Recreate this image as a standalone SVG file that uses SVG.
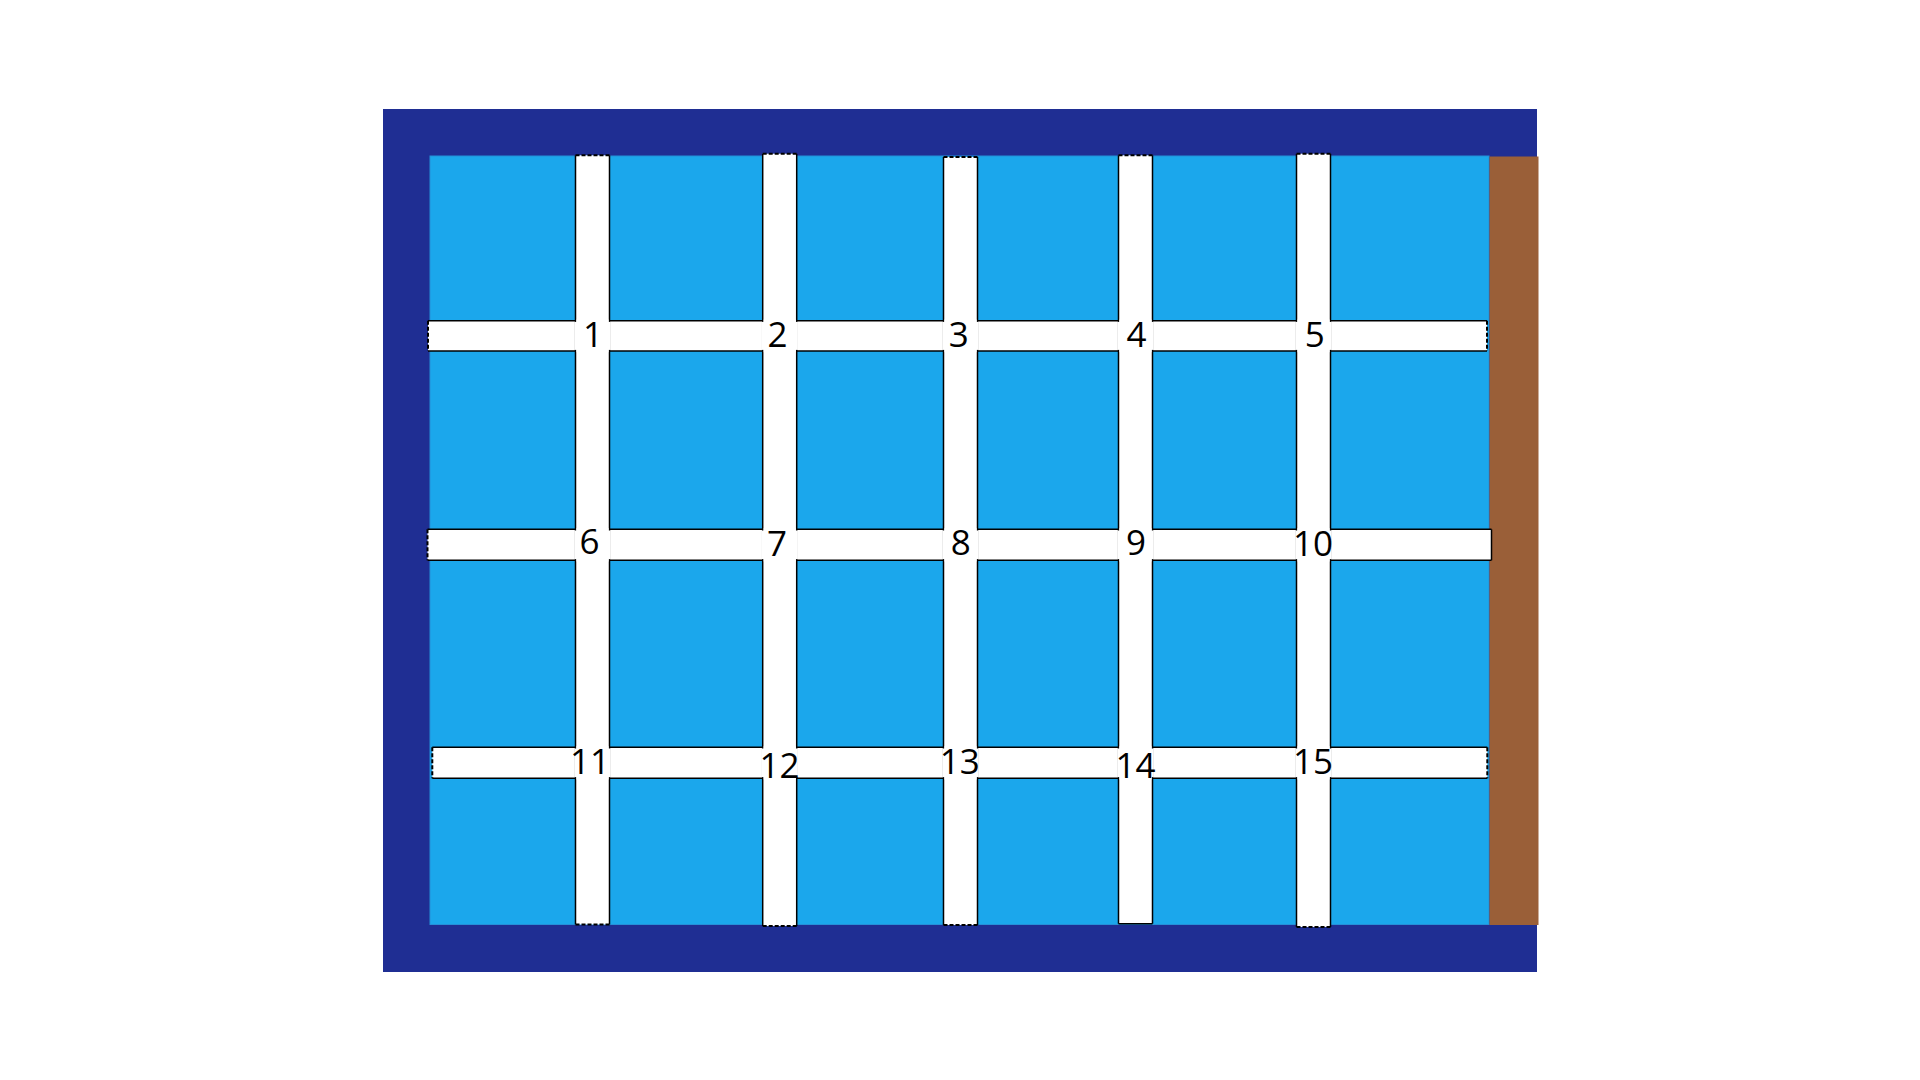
<svg xmlns="http://www.w3.org/2000/svg" width="1920" height="1080" viewBox="0 0 1920 1080">
<style>
.road{fill:#fff;stroke:none}
.edge{stroke:#000;stroke-width:1.5;fill:none}
.end{stroke:#000;stroke-width:2;fill:none;stroke-dasharray:4 2}
.cov{fill:#fff;stroke:none}
.lbl{font-family:"Open Sans","Liberation Sans",sans-serif;font-size:35px;fill:#000;text-anchor:middle}
</style>
<rect width="1920" height="1080" fill="#fff"/>
<g id="frame">
<rect x="383" y="109" width="1154" height="863" fill="#1f2e93"/>
<rect x="430" y="156" width="1059" height="768.5" fill="#1ba7ec" stroke="#2590d8" stroke-width="1"/>
<rect x="1489.5" y="156.5" width="49" height="768.5" fill="#9a5f38"/>
</g>
<g id="connectors">
<rect class="road" x="428" y="320.7" width="1059" height="30.3"/>
<line class="edge" x1="428" y1="320.7" x2="1487" y2="320.7"/>
<line class="edge" x1="428" y1="351" x2="1487" y2="351"/>
<line class="end" x1="428" y1="320.7" x2="428" y2="351"/>
<line class="end" x1="1487" y1="320.7" x2="1487" y2="351"/>
<rect class="road" x="427.5" y="529.3" width="1064" height="31"/>
<line class="edge" x1="427.5" y1="529.3" x2="1491.5" y2="529.3"/>
<line class="edge" x1="427.5" y1="560.3" x2="1491.5" y2="560.3"/>
<line class="end" x1="427.5" y1="529.3" x2="427.5" y2="560.3"/>
<line class="edge" x1="1491.5" y1="529.3" x2="1491.5" y2="560.3"/>
<rect class="road" x="432.3" y="747.3" width="1055" height="31"/>
<line class="edge" x1="432.3" y1="747.3" x2="1487.3" y2="747.3"/>
<line class="edge" x1="432.3" y1="778.3" x2="1487.3" y2="778.3"/>
<line class="end" x1="432.3" y1="747.3" x2="432.3" y2="778.3"/>
<line class="end" x1="1487.3" y1="747.3" x2="1487.3" y2="778.3"/>
<rect class="road" x="575.5" y="155.3" width="34" height="769.2"/>
<line class="edge" x1="575.5" y1="155.3" x2="575.5" y2="924.5"/>
<line class="edge" x1="609.5" y1="155.3" x2="609.5" y2="924.5"/>
<line class="end" x1="575.5" y1="155.3" x2="609.5" y2="155.3"/>
<line class="end" x1="575.5" y1="924.5" x2="609.5" y2="924.5"/>
<rect class="road" x="762.7" y="153.7" width="34" height="772.3"/>
<line class="edge" x1="762.7" y1="153.7" x2="762.7" y2="926"/>
<line class="edge" x1="796.7" y1="153.7" x2="796.7" y2="926"/>
<line class="end" x1="762.7" y1="153.7" x2="796.7" y2="153.7"/>
<line class="end" x1="762.7" y1="926" x2="796.7" y2="926"/>
<rect class="road" x="943.5" y="157" width="34" height="768"/>
<line class="edge" x1="943.5" y1="157" x2="943.5" y2="925"/>
<line class="edge" x1="977.5" y1="157" x2="977.5" y2="925"/>
<line class="end" x1="943.5" y1="157" x2="977.5" y2="157"/>
<line class="end" x1="943.5" y1="925" x2="977.5" y2="925"/>
<rect class="road" x="1118.5" y="155.3" width="34" height="768.4"/>
<line class="edge" x1="1118.5" y1="155.3" x2="1118.5" y2="923.7"/>
<line class="edge" x1="1152.5" y1="155.3" x2="1152.5" y2="923.7"/>
<line class="end" x1="1118.5" y1="155.3" x2="1152.5" y2="155.3"/>
<line class="edge" x1="1118.5" y1="923.7" x2="1152.5" y2="923.7"/>
<rect class="road" x="1296.5" y="153.7" width="34" height="773.3"/>
<line class="edge" x1="1296.5" y1="153.7" x2="1296.5" y2="927"/>
<line class="edge" x1="1330.5" y1="153.7" x2="1330.5" y2="927"/>
<line class="end" x1="1296.5" y1="153.7" x2="1330.5" y2="153.7"/>
<line class="end" x1="1296.5" y1="927" x2="1330.5" y2="927"/>
</g>
<g id="node-1"><rect class="cov" x="576.5" y="319.5" width="32" height="32.7"/><rect class="cov" x="574.3" y="321.9" width="36.4" height="28"/><text class="lbl" x="593" y="347">1</text></g>
<g id="node-2"><rect class="cov" x="763.7" y="319.5" width="32" height="32.7"/><rect class="cov" x="761.5" y="321.9" width="36.4" height="28"/><text class="lbl" x="777.5" y="347">2</text></g>
<g id="node-3"><rect class="cov" x="944.5" y="319.5" width="32" height="32.7"/><rect class="cov" x="942.3" y="321.9" width="36.4" height="28"/><text class="lbl" x="958.7" y="347">3</text></g>
<g id="node-4"><rect class="cov" x="1119.5" y="319.5" width="32" height="32.7"/><rect class="cov" x="1117.3" y="321.9" width="36.4" height="28"/><text class="lbl" x="1136.5" y="347">4</text></g>
<g id="node-5"><rect class="cov" x="1297.5" y="319.5" width="32" height="32.7"/><rect class="cov" x="1295.3" y="321.9" width="36.4" height="28"/><text class="lbl" x="1314.7" y="347">5</text></g>
<g id="node-6"><rect class="cov" x="576.5" y="528.1" width="32" height="33.4"/><rect class="cov" x="574.3" y="530.5" width="36.4" height="28.6"/><text class="lbl" x="589.6" y="553.5">6</text></g>
<g id="node-7"><rect class="cov" x="763.7" y="528.1" width="32" height="33.4"/><rect class="cov" x="761.5" y="530.5" width="36.4" height="28.6"/><text class="lbl" x="777" y="556">7</text></g>
<g id="node-8"><rect class="cov" x="944.5" y="528.1" width="32" height="33.4"/><rect class="cov" x="942.3" y="530.5" width="36.4" height="28.6"/><text class="lbl" x="960.8" y="555.3">8</text></g>
<g id="node-9"><rect class="cov" x="1119.5" y="528.1" width="32" height="33.4"/><rect class="cov" x="1117.3" y="530.5" width="36.4" height="28.6"/><text class="lbl" x="1136" y="555.3">9</text></g>
<g id="node-10"><rect class="cov" x="1297.5" y="528.1" width="32" height="33.4"/><rect class="cov" x="1295.3" y="530.5" width="36.4" height="28.6"/><text class="lbl" x="1313" y="556">10</text></g>
<g id="node-11"><rect class="cov" x="576.5" y="746.1" width="32" height="33.4"/><rect class="cov" x="574.3" y="748.5" width="36.4" height="28.6"/><text class="lbl" x="590" y="773.7">11</text></g>
<g id="node-12"><rect class="cov" x="763.7" y="746.1" width="32" height="33.4"/><rect class="cov" x="761.5" y="748.5" width="36.4" height="28.6"/><text class="lbl" x="779.4" y="778.3">12</text></g>
<g id="node-13"><rect class="cov" x="944.5" y="746.1" width="32" height="33.4"/><rect class="cov" x="942.3" y="748.5" width="36.4" height="28.6"/><text class="lbl" x="959.7" y="774.3">13</text></g>
<g id="node-14"><rect class="cov" x="1119.5" y="746.1" width="32" height="33.4"/><rect class="cov" x="1117.3" y="748.5" width="36.4" height="28.6"/><text class="lbl" x="1135.4" y="778.3">14</text></g>
<g id="node-15"><rect class="cov" x="1297.5" y="746.1" width="32" height="33.4"/><rect class="cov" x="1295.3" y="748.5" width="36.4" height="28.6"/><text class="lbl" x="1313" y="774.3">15</text></g>
</svg>
